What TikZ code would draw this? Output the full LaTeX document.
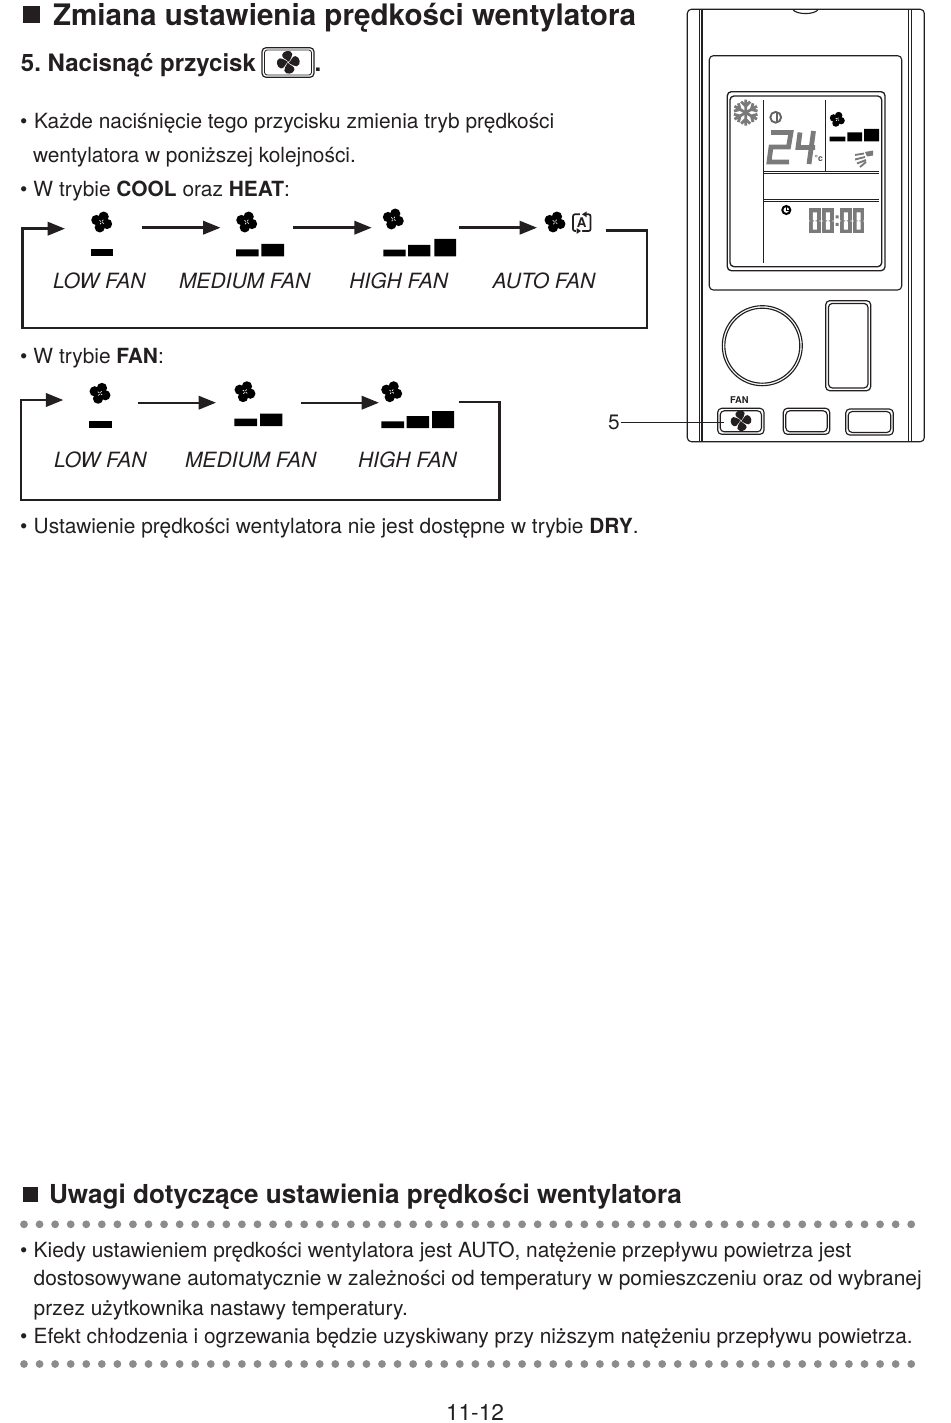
\documentclass[tikz,border=0pt]{standalone}
\usepackage{fontspec}
\setmainfont{TeX Gyre Heros}
\usetikzlibrary{arrows.meta}
\frenchspacing
\definecolor{ink}{HTML}{231F20}
\definecolor{lcdgray}{HTML}{7A7A7A}
\definecolor{dotgray}{HTML}{8C8C8C}
\newcommand\bodyfont{\fontsize{15.67pt}{18pt}\selectfont}
\newcommand\fanicon[3]{\begin{scope}[shift={(#1,#2)},scale=#3/10]
 \foreach \a in {20,110,200,290}{\fill[black] (\a:5.4) circle (4.9);}
 \fill[black] (0,0) circle (3);
 \foreach \a in {35,125,215,305}{\draw[white,line width=.5pt] (\a:.8) -- (\a:2.6);}
\end{scope}}
\newcommand\fanblades[3]{\begin{scope}[shift={(#1,#2)},scale=#3/10,rotate=15]
 \foreach \a in {0,90,180,270}{\fill[ink,rotate=\a] (.3,-.6) .. controls (-1,-3.5) and (-5,-5) .. (-3.6,-8) .. controls (-2,-11.5) and (5.5,-11) .. (5.5,-6.5) .. controls (5.5,-4) and (2.5,-3) .. (.8,-.4) -- cycle;}
\end{scope}}
\newcommand\zero[1]{\begin{scope}[shift={(#1,208.5)}]
 \fill[lcdgray] (0,0) rectangle (11.6,25);
 \fill[white] (3.8,3.8) rectangle (7.8,21.2) (-.3,12.1) rectangle (1.2,12.9) (10.4,12.1) rectangle (11.9,12.9);
 \fill[lcdgray] (3.8,12) rectangle (5,13) (6.6,12) rectangle (7.8,13);
\end{scope}}
\tikzset{
 txt/.style={anchor=base west,inner sep=0pt,outer sep=0pt,text=ink,font=\bodyfont},
 fanlabel/.style={anchor=base west,inner sep=0pt,outer sep=0pt,text=ink,font=\fontsize{15.75pt}{18pt}\selectfont\itshape},
 flowline/.style={draw=ink,line width=1.8pt},
 flowarrow/.style={flowline,-{Triangle[length=13pt,width=10pt]}},
 loopline/.style={draw=ink,line width=1.9pt,line join=miter},
 rem/.style={draw=ink,line width=.85pt},
}
\begin{document}
\begin{tikzpicture}[x=.75pt,y=-.75pt]
\useasboundingbox (0,0) rectangle (950,1423);
% headings
\fill[ink] (22.7,5.7) rectangle (40,23.3);
\node[txt,font=\bfseries\fontsize{22.2pt}{26pt}\selectfont] (t1) at (53,26) {Zmiana ustawienia prędkości wentylatora};
\node[txt,font=\bfseries\fontsize{18pt}{22pt}\selectfont] (t2) at (21,72) {5. Nacisnąć przycisk};
\draw[rem,line width=.9pt,rounded corners=3pt] (262,47.7) rectangle (314,77.3);
\draw[rem,line width=.6pt,rounded corners=2pt] (264.5,50) rectangle (311.5,75);
\fanblades{288.3}{62.3}{11}
\node[txt,font=\bfseries\fontsize{18pt}{22pt}\selectfont] (t2b) at (314.5,72) {.};
\node[txt] (b1) at (20,128.7) {•};
\node[txt] (l1) at (34,128.7) {Każde naciśnięcie tego przycisku zmienia tryb prędkości};
\node[txt] (l2) at (33,162.7) {wentylatora w poniższej kolejności.};
\node[txt] (b2) at (20,196.7) {•};
\node[txt] (l3) at (33.5,196.7) {W trybie \textbf{COOL} oraz \textbf{HEAT}:};
% flow 1
\fanicon{101.7}{222}{10.5}\fanicon{246.7}{222}{10.5}\fanicon{393.3}{219}{10.5}\fanicon{555}{222}{10.5}
\coordinate (f1a) at (142,227.7); \coordinate (f1b) at (220.5,227.7);
\coordinate (f1c) at (293,227.7); \coordinate (f1d) at (371.7,227.7);
\coordinate (f1e) at (459,227.7); \coordinate (f1f) at (537,227.7);
\draw[flowarrow] (f1a) -- (f1b);
\draw[flowarrow] (f1c) -- (f1d);
\draw[flowarrow] (f1e) -- (f1f);
\coordinate (f1start) at (605.7,230.3); \coordinate (f1end) at (65,228.7);
\draw[loopline,-{Triangle[length=13pt,width=10pt]}] (f1start) -| (647,328) -| (22.7,228.7) -- (f1end);
\fill[black] (91,249.3) rectangle (113.3,256.3);
\fill[black] (236,249.3) rectangle (258.7,256.3) (261.3,244) rectangle (284,256.3);
\fill[black] (383.3,249.7) rectangle (405.7,256.3) (408,245) rectangle (430.3,256.3) (434.3,239) rectangle (456,256.3);
% auto icon
\draw[ink,line width=1.3pt,rounded corners=1.5pt] (573,214.3) rectangle (590.6,231);
\fill[white] (580,212) rectangle (586,217) (576,229) rectangle (582,233);
\fill[ink] (586.5,211.5) -- (582,214.3) -- (586.5,217.2) -- cycle (576.5,228.1) -- (581,231) -- (576.5,233.9) -- cycle;
\node[inner sep=0pt,font=\bfseries\fontsize{10pt}{10pt}\selectfont,text=ink] (autoA) at (581.7,223) {A};
\node[fanlabel] (a1) at (53,288.3) {LOW FAN};
\node[fanlabel] (a2) at (179,288.3) {MEDIUM FAN};
\node[fanlabel] (a3) at (349.3,288.3) {HIGH FAN};
\node[fanlabel] (a4) at (492.7,288.3) {AUTO FAN};
% flow 2
\node[txt] (b3) at (20,363) {•};
\node[txt] (l4) at (33.5,363) {W trybie \textbf{FAN}:};
\fanicon{100}{393.3}{10.5}\fanicon{245}{391.7}{10.5}\fanicon{391.7}{391.7}{10.5}
\coordinate (f2a) at (138,402.7); \coordinate (f2b) at (216,402.7);
\coordinate (f2c) at (300.7,402.7); \coordinate (f2d) at (379,402.7);
\draw[flowarrow] (f2a) -- (f2b);
\draw[flowarrow] (f2c) -- (f2d);
\coordinate (f2start) at (458.7,402); \coordinate (f2end) at (63.3,400);
\draw[loopline,-{Triangle[length=13pt,width=10pt]}] (f2start) -| (499.3,500) -| (21,400) -- (f2end);
\fill[black] (89.3,421) rectangle (111.7,428);
\fill[black] (234.3,418.7) rectangle (257,426) (260,413.7) rectangle (282.3,426);
\fill[black] (381.3,421.3) rectangle (404,428) (406.7,416) rectangle (429,428) (432,411) rectangle (454,428);
\node[fanlabel] (c1) at (54,467.3) {LOW FAN};
\node[fanlabel] (c2) at (185,467.3) {MEDIUM FAN};
\node[fanlabel] (c3) at (358,467.3) {HIGH FAN};
\node[txt] (b4) at (20,533) {•};
\node[txt] (l5) at (33.7,533) {Ustawienie prędkości wentylatora nie jest dostępne w trybie \textbf{DRY}.};
% remote
\draw[rem,rounded corners=3pt] (687.3,9.3) rectangle (924.3,441.7);
\draw[rem] (699.3,9.3) -- (699.3,441.7) (702,9.3) -- (702,441.7) (908.7,9.3) -- (908.7,441.7) (911.3,9.3) -- (911.3,441.7);
\draw[rem] (792.7,9.3) .. controls (796,15) and (815,15) .. (818.3,9.3);
\draw[rem,rounded corners=3pt] (709.3,55.7) rectangle (901.7,290);
\draw[rem,line width=1pt,rounded corners=3pt] (727.3,91.7) rectangle (885,270.7);
\draw[rem,line width=1pt,rounded corners=3pt] (730,96) rectangle (881.7,266.7);
\draw[rem,line width=1.1pt] (763.3,100) -- (763.3,262.7) (825.3,100) -- (825.3,171);
\draw[rem,line width=.7pt] (764.3,171.2) -- (879,171.2) (764.3,173) -- (879,173) (764.3,199.5) -- (879,199.5) (764.3,201.3) -- (879,201.3);
% snowflake
\begin{scope}[shift={(745.7,112.7)}]
\foreach \a in {30,90,150,210,270,330}{
 \draw[lcdgray,line width=2.1pt,rotate=\a] (0,0) -- (13,0) (6.5,0) -- (11,-4.5) (6.5,0) -- (11,4.5);}
\end{scope}
% thermometer symbol
\draw[ink!70,line width=1.4pt] (775.7,117.3) circle (5.4);
\fill[ink!70] (775.7,112.5) rectangle (777.8,122);
% 24
\draw[lcdgray,line width=3.6pt,line join=miter] (771,132.5) -- (791,132.5) -- (788.5,147) -- (771,147) -- (769,162) -- (789,162);
\draw[lcdgray,line width=3.6pt] (800,132.5) -- (798,147.5) -- (815,147.5) (813.5,131) -- (809,164);
\node[inner sep=0pt,text=ink!80,font=\bfseries\fontsize{6.5pt}{8pt}\selectfont] (degc) at (818.8,158.5) {°c};
\fanicon{837.3}{119.3}{7.5}
\fill[black] (829.7,136.7) rectangle (845.3,141.3) (847.3,132.3) rectangle (862,141.3) (864,129) rectangle (879,141.3);
% swing
\draw[lcdgray,line width=1.4pt] (855,155) -- (864,153.5) (855,159.5) -- (865,157) (857,163.5) -- (866,160) (860,167) -- (866,162);
\fill[lcdgray] (865,152) -- (873,150.5) -- (873,155.5) -- (867,156.5) -- cycle;
% clock
\draw[black,line width=1.5pt] (786.3,210) circle (4);
\draw[black,line width=1pt] (786.3,207.5) -- (786.3,210.3) -- (789,210.3);
\zero{809}\zero{822}\zero{840}\zero{852.7}
\fill[lcdgray] (835.5,215.5) rectangle (838.5,218.5) (835.5,223) rectangle (838.5,226);
% knob
\draw[rem] (762.3,345.7) circle (40);
\draw[rem] (762.3,345.7) circle (37.5);
\draw[rem,line width=.9pt,rounded corners=3pt] (825.7,300.7) rectangle (870.7,390.7);
\draw[rem,line width=.9pt,rounded corners=3pt] (828.4,303.4) rectangle (868,388);
% buttons
\foreach \xa/\xb/\yy in {717.7/764/0,783.3/829.7/0,845.7/893.3/.7}{
 \draw[rem,rounded corners=3pt] (\xa,408.3+\yy) rectangle (\xb,434.3+\yy);
 \draw[rem,rounded corners=3pt] (\xa+2.5,410.8+\yy) rectangle (\xb-2.5,431.8+\yy);}
\node[inner sep=0pt,text=ink,font=\bfseries\fontsize{7pt}{8pt}\selectfont] (fanlbl) at (739.3,400.3) {FAN};
\fanblades{741}{420.7}{10}
\node[txt] (five) at (608,429) {5};
\coordinate (ldr) at (724,422.3);
\draw[ink,line width=.75pt] (five.east |- ldr) ++(1,0) -- (ldr);
% notes
\fill[ink] (22.7,1187.3) rectangle (37.7,1201.7);
\node[txt,font=\bfseries\fontsize{19.6pt}{24pt}\selectfont] (t3) at (49,1203) {Uwagi dotyczące ustawienia prędkości wentylatora};
\foreach \i in {0,...,57}{\fill[dotgray] (24+\i*15.565,1224.3) circle (3.9) (24+\i*15.565,1364) circle (3.9);}
\node[txt] (b5) at (20,1257) {•};
\node[txt] (n1) at (33.7,1257) {Kiedy ustawieniem prędkości wentylatora jest AUTO, natężenie przepływu powietrza jest};
\node[txt] (n2) at (33.7,1285.5) {dostosowywane automatycznie w zależności od temperatury w pomieszczeniu oraz od wybranej};
\node[txt] (n3) at (33.7,1315) {przez użytkownika nastawy temperatury.};
\node[txt] (b6) at (20,1343.5) {•};
\node[txt,font=\fontsize{15.62pt}{18pt}\selectfont] (n4) at (33.7,1343.5) {Efekt chłodzenia i ogrzewania będzie uzyskiwany przy niższym natężeniu przepływu powietrza.};
\node[txt,font=\fontsize{17pt}{18pt}\selectfont] (pg) at (446,1420.5) {11-12};
\end{tikzpicture}
\end{document}
